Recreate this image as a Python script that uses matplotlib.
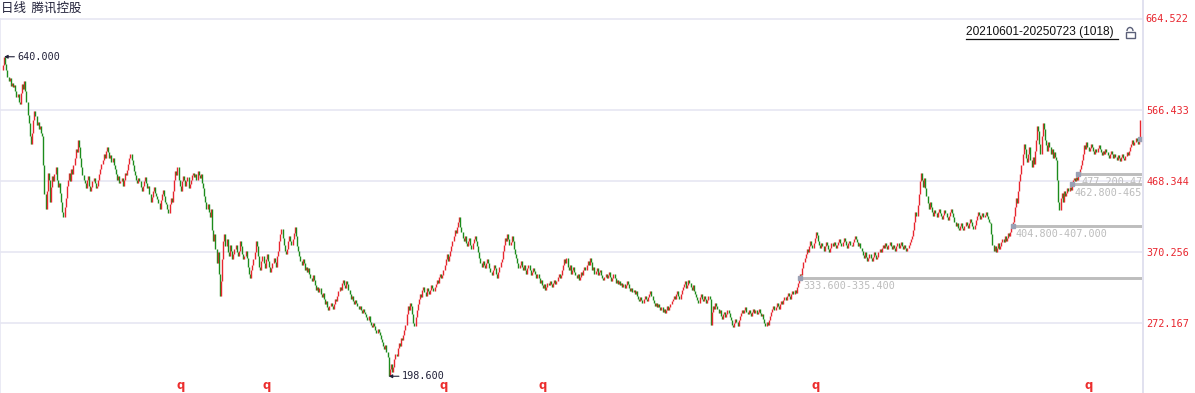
import matplotlib
matplotlib.use("Agg")
import matplotlib.pyplot as plt
import numpy as np
from matplotlib.lines import Line2D
from matplotlib.patches import Rectangle, Arc

# ---------------------------------------------------------------------------
# Data (daily closes, 1018 bars)
# ---------------------------------------------------------------------------
first_open = 622.0

closes_2021 = [
    628, 640, 630, 622,
    612, 606, 610, 600, 604, 598, 601,
    592, 585, 588, 578, 575,
    590, 602, 596, 606, 592,
    578, 560, 548, 530, 520, 535,
    552, 565, 558, 546,
    550, 540, 545, 534, 530,
    490, 450, 430,
    455, 480, 470, 440, 460, 475,
    468, 478,
    488, 470, 460, 465,
    452, 440, 425, 418, 432,
    445, 462, 470, 480, 468, 485, 478,
    490, 500, 512, 508, 525, 515,
    500, 488, 476, 470, 465, 458, 470, 475, 462, 455, 460, 468, 472, 465, 458, 462, 470, 478,
    485, 492, 498, 505, 500, 510, 515, 508, 500, 504, 495, 500, 490, 485,
    478, 470, 475, 465, 468, 472, 462, 470, 480, 476, 484,
    492, 500, 505, 498, 490,
    482, 476, 470, 465, 472, 468, 460, 455, 462, 468, 474, 466,
    458, 462, 450, 440, 446, 455, 460, 452, 448,
    444, 438, 430, 442, 450, 456, 448, 440, 436,
]

closes_2022 = [
    430, 424, 436, 445, 440,
    455, 470, 482, 476, 488, 470, 462, 455, 468,
    475, 470, 462, 468, 474, 458, 464,
    470, 476, 480, 474, 478, 470, 482, 476, 472, 478,
    466, 458, 448, 440, 430, 436, 425, 418, 430,
    400, 385, 395, 375, 355, 370, 340, 310, 330,
    360, 385, 395, 378, 388, 370, 365, 380, 372, 360,
    368, 375, 380, 370, 365, 372, 385, 378, 368, 360, 365, 372, 362,
    350, 340, 335, 345, 352,
    360, 370, 385, 378, 365, 350, 345, 358, 365, 355, 348, 360, 368,
    358, 350, 342, 348, 355, 362, 356, 350, 365,
    372, 385, 395, 402, 390, 380, 372, 368, 375, 385, 392, 385,
    380, 388, 396, 405, 392, 378, 372,
    365, 358, 352, 360, 355, 346, 350, 342, 348,
    340, 335, 330, 338, 332, 325, 318, 322, 315, 320, 312, 308, 314,
    305, 298, 302, 294, 290, 296, 300, 295, 292, 298, 305, 302, 310,
    316, 322, 318, 328, 332, 325, 320, 330, 326, 318, 312, 306, 310,
    302, 298, 304, 300, 296, 292, 295, 290, 286, 292, 288, 284,
    280, 276, 282, 274, 270, 266, 272, 268, 262, 258, 264, 260,
    255, 250, 246, 240, 236, 242, 232, 225,
    198.6, 208, 215, 205, 212, 222,
    230, 226, 238, 245, 240, 252, 248, 256, 262,
    270, 285, 295, 290, 300, 295,
    285, 272, 268, 280, 290, 298,
    305, 312, 308, 318, 322, 315, 310, 320, 316, 312, 318, 325, 320, 316, 322,
    326, 332, 328, 336, 340, 334, 338,
]

closes_2023 = [
    345, 352, 360, 368, 358, 365, 372, 378,
    385, 392, 400, 396, 405, 412, 418, 405, 398,
    390, 385, 392, 382, 378, 385, 390, 380, 375, 382, 388, 392, 385, 378,
    370, 362, 355, 350, 358, 352, 348, 355, 360,
    355, 348, 342, 338, 345, 352, 348, 340, 335, 342, 350, 356, 360,
    372, 380, 390, 385, 395, 388, 380, 384, 392, 385, 375,
    368, 362, 355, 348, 352, 358, 350, 345, 352,
    345, 340, 348, 352, 345, 338, 342, 348, 344, 340, 335, 340,
    335, 328, 332, 325, 320, 326, 318, 322, 328, 325, 330, 326,
    322, 328, 332, 326, 330, 336, 340, 334, 338,
    345, 352, 360, 355, 362, 350, 345, 352, 340, 345, 350, 342,
    338, 335, 340, 332, 336, 342, 338, 345, 350, 346, 352,
    358, 352, 362, 356, 345, 350, 340, 344, 348, 338, 342, 346, 338, 335,
    332, 336, 340, 334, 338, 342, 336, 330, 334, 340, 335, 328, 332, 326, 330, 324,
    328, 322, 326, 320, 324, 330, 326, 320, 316, 320, 315, 318, 312, 316, 310,
    306, 302, 308, 304, 300, 306, 310, 306, 302, 308, 312,
    316, 310, 304, 300, 296, 300, 294, 298, 294,
    290, 294, 288, 292, 286, 290, 295, 290, 294, 298, 302, 306,
    310, 306, 312, 316, 310, 306, 312, 318, 322,
    326, 330, 320, 325, 332, 328, 322, 318, 324, 316, 312, 308,
    304, 300, 308, 312, 306, 302, 310, 306, 300, 304, 310, 306,
    270, 288, 296, 292, 300, 296,
]

closes_2024 = [
    292, 286, 290, 282, 278, 284, 288, 280, 284, 290, 286, 280,
    276, 270, 266, 272, 278, 274, 268, 276, 282, 286, 290,
    286, 290, 294, 288, 284, 290, 286, 282, 288, 292, 286, 290, 284, 288, 292, 286, 282, 284,
    278, 272, 268, 274, 270, 276,
    282, 288, 292, 296, 290, 294, 300, 296, 292, 298, 302, 298,
    304, 308, 304, 310, 314, 310, 306, 312, 316, 312, 318, 314,
    322, 328, 332, 340, 338, 348,
    356, 362, 368, 374, 370, 378, 385, 380, 376, 382, 390, 398, 394, 385,
    380, 376, 382, 378, 372, 378, 384, 380, 374, 370, 376, 382, 378, 384, 380, 376, 380,
    384, 388, 382, 378, 384, 390, 386, 380, 376, 382, 386, 380, 378, 384, 388, 392,
    388, 384, 378, 382, 376, 372,
    366, 362, 370, 364, 358, 362, 368, 362, 358, 364, 370, 366, 360, 364, 370, 374, 370, 376,
    380, 376, 382, 378, 374, 380, 384, 378, 374, 380, 376, 372, 378, 382, 376, 380,
    384, 378, 374, 380, 376, 372, 376, 380, 384, 388, 392,
    400, 412, 425, 420, 435,
    450, 468, 480, 470, 460, 472, 458,
    448, 438, 430, 440, 432, 426,
    420, 428, 424, 418, 426, 430, 424, 420, 416, 422, 428, 424, 418, 414, 420, 426, 430, 424,
    418, 412, 406, 410, 404, 400, 406, 410, 404, 400, 406,
    412, 408, 404, 410, 416, 412, 406, 402, 408,
    414, 420, 426, 422, 416, 420, 424, 418, 422, 426, 420, 416, 412, 410,
]

closes_2025 = [
    395, 380, 372, 378, 370, 376, 382, 374, 378, 384,
    388, 384, 392, 386, 390, 396, 392, 398, 404,
    412, 420, 432, 445, 438, 455, 468, 478,
    490, 505, 520, 512, 500, 495, 505, 515, 498, 488, 502, 492,
    510, 525, 545, 538, 520, 505, 530, 548, 540, 525,
    518, 510, 522, 515, 505, 512, 500, 508, 502, 498,
    470, 440, 428, 445, 452, 440, 455,
    448, 452, 458, 455, 460, 456, 462, 470,
    472, 468, 474, 470, 476, 485, 490, 498, 505,
    518, 512, 522, 516, 510, 514, 520, 516, 510, 506, 512, 508, 514, 518, 512, 508,
    504, 510, 506, 512, 508, 504, 500, 506,
    510, 505, 500, 506, 502, 498, 504, 500, 496, 502, 506, 500, 497, 503, 508, 504, 510, 515,
    520, 525, 518, 522, 528, 524, 520, 526, 553,
]

# unfilled price gaps: start bar, lower edge, upper edge
gap_start = [713, 903, 956, 962, 1017]
gap_low = [333.6, 404.8, 462.8, 477.2, 526.0]
gap_high = [335.4, 407.0, 465.0, 478.0, 528.0]

# ex-rights ("q") bars
q_index = [159, 236, 394, 483, 727, 971]

grid_values = [272.167, 370.256, 468.344, 566.433]
top_label = "664.522"
title = "日线  腾讯控股"
range_text = "20210601-20250723 (1018)"

RED = "#e8262f"
GREEN = "#1c8c1c"
GRID = "#e6e6f2"
MONO = "DejaVu Sans Mono"

# ---------------------------------------------------------------------------
# Figure
# ---------------------------------------------------------------------------
W, H = 1195, 393
fig = plt.figure(figsize=(W / 100, H / 100), dpi=100)
ax = fig.add_axes([0, 0, 1142 / W, (H - 19) / H])

closes = np.array(closes_2021 + closes_2022 + closes_2023 + closes_2024 + closes_2025, dtype=float)
opens = np.concatenate([[first_open], closes[:-1]])
idx = np.arange(len(closes))
up = closes >= opens
lo = np.minimum(opens, closes)
hi = np.maximum(np.maximum(opens, closes), lo + 2.0)
ax.vlines(idx, lo, hi, colors=np.where(up, RED, GREEN), lw=1.0, zorder=3)

ax.set_xlim(-2.7, 1018.8)
ax.set_ylim(175.46, 692.15)

ax.set_yticks(grid_values)
ax.set_yticklabels([f"{v:.3f}" for v in grid_values])
ax.yaxis.tick_right()
ax.tick_params(axis="y", length=0, pad=3, labelcolor=RED, labelsize=7.3)
for t in ax.get_yticklabels():
    t.set_fontfamily(MONO)
ax.set_xticks([])
ax.grid(axis="y", color=GRID, lw=1.2, zorder=0)
for side in ["bottom", "right"]:
    ax.spines[side].set_visible(False)
ax.spines["top"].set_color(GRID)
ax.spines["top"].set_linewidth(1.2)
ax.spines["left"].set_color(GRID)
ax.spines["left"].set_linewidth(1.2)

# gap bands (the newest gap has no room left for its label)
xr = ax.get_xlim()[1]
for s, gl, gh in zip(gap_start, gap_low, gap_high):
    ax.hlines((gl + gh) / 2, s, xr, colors="#bdbdbd", lw=2.1, zorder=4)
    ax.plot(s, (gl + gh) / 2, marker="s", ms=3, color="#9aa0b4", zorder=5)
    if s >= len(closes) - 1:
        continue
    lab = ax.annotate(f"{gl:.3f}-{gh:.3f}", xy=(s, gl), xytext=(3, -2.5),
                      textcoords="offset pixels", ha="left", va="top",
                      fontsize=7.3, family=MONO, color="#bcbcbc", zorder=2)
    lab.set_clip_box(ax.bbox)
    lab.set_clip_on(True)

# extreme annotations
for k in [int(np.argmax(closes)), int(np.argmin(closes))]:
    ax.annotate(f"{closes[k]:.3f}", xy=(k, closes[k]), xytext=(13, 0),
                textcoords="offset pixels", ha="left", va="center",
                fontsize=7.3, family=MONO, color="#22223a",
                arrowprops=dict(arrowstyle="-|>", color="#22223a", lw=0.8,
                                mutation_scale=5, shrinkA=0, shrinkB=0),
                zorder=6)

# ex-rights markers
for q in q_index:
    ax.text(q, 0.02, "q", transform=ax.get_xaxis_transform(), ha="center",
            va="center", fontsize=8.5, fontweight="bold", color="#ec2e2e")

# right axis line and top label
fig.add_artist(Line2D([1142.5 / W] * 2, [0, 1], color="#dcdcec", lw=1.2))
fig.text(1145 / W, 1 - 19 / H, top_label, ha="left", va="center",
         fontsize=7.3, family=MONO, color=RED)

# header texts
fig.text(1 / W, 1 - 8 / H, title, ha="left", va="center", fontsize=9,
         family=["Noto Sans CJK SC", "DejaVu Sans"], color="#22223a")
fig.text(966 / W, 1 - 32 / H, range_text, ha="left", va="center",
         fontsize=8.6, family="Liberation Sans", color="#111111")
fig.add_artist(Line2D([966 / W, 1118 / W], [1 - 38.5 / H] * 2, color="#111111", lw=0.9))

# small lock icon
fig.add_artist(Rectangle((1125.5 / W, 1 - 38 / H), 9 / W, 6 / H, fill=False,
                         edgecolor="#5a5f78", lw=1.0, transform=fig.transFigure))
fig.add_artist(Arc((1130 / W, 1 - 31 / H), 6 / W, 7 / H, theta1=0, theta2=180,
                   edgecolor="#5a5f78", lw=1.0, transform=fig.transFigure))

fig.savefig("out.png", dpi=100, facecolor="white")
